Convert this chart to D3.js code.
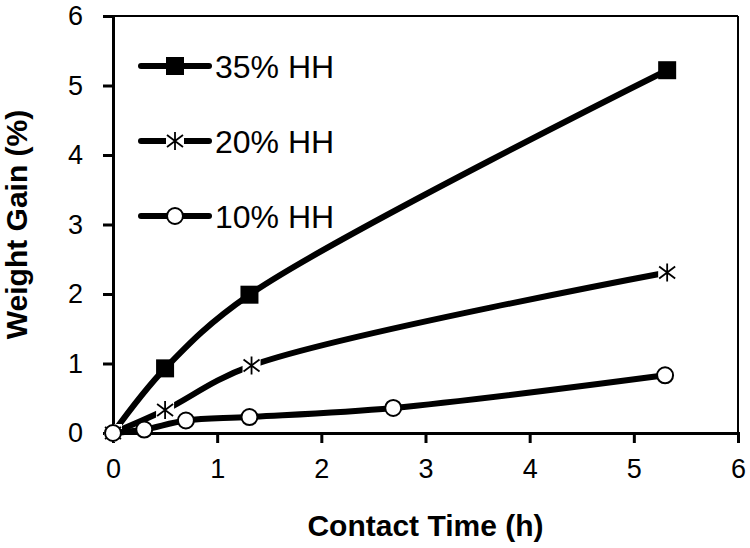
<!DOCTYPE html>
<html>
<head>
<meta charset="utf-8">
<script src="https://cdn.jsdelivr.net/npm/d3@7"></script>
<style>
  body { margin: 0; background: #fff; }
  text { font-family: "Liberation Sans", Arial, sans-serif; fill: #000; }
</style>
</head>
<body>
<div id="chart"></div>
<script>
// data
const seriesNames = ["35% HH", "20% HH", "10% HH"];
const x35 = [0, 0.5, 1.31, 5.32];
const y35 = [0, 0.93, 1.99, 5.22];
const x20 = [0, 0.5, 1.33, 5.32];
const y20 = [0, 0.33, 0.97, 2.31];
const x10 = [0, 0.3, 0.7, 1.31, 2.69, 5.3];
const y10 = [0, 0.05, 0.18, 0.23, 0.36, 0.83];
const xTicks = [0, 1, 2, 3, 4, 5, 6];
const yTicks = [0, 1, 2, 3, 4, 5, 6];

const W = 750, H = 548;
const margin = { top: 16, right: 12, bottom: 115, left: 113 };
const width = W - margin.left - margin.right,
  height = H - margin.top - margin.bottom;

const svg = d3.select("#chart").append("svg")
  .attr("width", W)
  .attr("height", H);

const g = svg.append("g")
  .attr("transform", "translate(" + margin.left + "," + margin.top + ")");

const x = d3.scaleLinear().domain([0, 6]).range([0, width]);
const y = d3.scaleLinear().domain([0, 6]).range([height, 0]);

// frame: top and right borders
g.append("line").attr("x1", 0).attr("x2", width).attr("y1", 0).attr("y2", 0)
  .attr("stroke", "#000").attr("stroke-width", 2);
g.append("line").attr("x1", width).attr("x2", width).attr("y1", 0).attr("y2", height)
  .attr("stroke", "#000").attr("stroke-width", 2);

// axes
const xAxis = g.append("g")
  .attr("transform", "translate(0," + height + ")")
  .call(d3.axisBottom(x).tickValues(xTicks).tickSize(10).tickPadding(16).tickFormat(d3.format("d")));
const yAxis = g.append("g")
  .call(d3.axisLeft(y).tickValues(yTicks).tickSize(10).tickPadding(20).tickFormat(d3.format("d")));

[xAxis, yAxis].forEach(a => {
  a.select(".domain").attr("stroke", "#000").attr("stroke-width", 3);
  a.selectAll(".tick line").attr("stroke", "#000").attr("stroke-width", 3);
  a.selectAll(".tick text")
    .style("font-family", "'Liberation Sans', Arial, sans-serif")
    .style("font-size", "27px")
    .attr("fill", "#000");
});
xAxis.selectAll(".tick text").attr("dy", "0.71em");

// axis titles
svg.append("text")
  .attr("x", margin.left + width / 2)
  .attr("y", 536)
  .attr("text-anchor", "middle")
  .style("font-size", "30px")
  .style("font-weight", "bold")
  .text("Contact Time (h)");

svg.append("text")
  .attr("transform", "translate(27," + (margin.top + height / 2) + ")rotate(-90)")
  .attr("text-anchor", "middle")
  .style("font-size", "30px")
  .style("font-weight", "bold")
  .text("Weight Gain (%)");

const line = d3.line()
  .x(d => x(d[0]))
  .y(d => y(d[1]))
  .curve(d3.curveCatmullRom.alpha(0.5));

const d35 = x35.map((v, i) => [v, y35[i]]);
const d20 = x20.map((v, i) => [v, y20[i]]);
const d10 = x10.map((v, i) => [v, y10[i]]);

// marker drawers
function square(sel, cx, cy) {
  sel.append("rect")
    .attr("x", cx - 9).attr("y", cy - 9)
    .attr("width", 18).attr("height", 18)
    .attr("fill", "#000");
}
function asterisk(sel, cx, cy) {
  sel.append("rect")
    .attr("x", cx - 9).attr("y", cy - 9)
    .attr("width", 18).attr("height", 18)
    .attr("fill", "#fff");
  sel.append("path")
    .attr("d", "M" + cx + "," + (cy - 9) + "V" + (cy + 9) +
      "M" + (cx - 8) + "," + (cy - 6) + "L" + (cx + 8) + "," + (cy + 6) +
      "M" + (cx - 8) + "," + (cy + 6) + "L" + (cx + 8) + "," + (cy - 6))
    .attr("stroke", "#000").attr("stroke-width", 1.8).attr("fill", "none");
}
function circle(sel, cx, cy) {
  sel.append("circle")
    .attr("cx", cx).attr("cy", cy).attr("r", 8)
    .attr("fill", "#fff").attr("stroke", "#000").attr("stroke-width", 2);
}

const markers = [square, asterisk, circle];
const allData = [d35, d20, d10];

allData.forEach((d, i) => {
  const s = g.append("g");
  s.append("path")
    .datum(d)
    .attr("d", line)
    .attr("fill", "none")
    .attr("stroke", "#000")
    .attr("stroke-width", 6)
    .attr("stroke-linecap", "round");
  d.forEach(p => markers[i](s, x(p[0]), y(p[1])));
});

// legend
const legendY = [66, 141, 216];
const leg = svg.append("g");
seriesNames.forEach((name, i) => {
  const ly = legendY[i];
  leg.append("line")
    .attr("x1", 141).attr("x2", 209)
    .attr("y1", ly).attr("y2", ly)
    .attr("stroke", "#000").attr("stroke-width", 6)
    .attr("stroke-linecap", "round");
  markers[i](leg, 175, ly);
  leg.append("text")
    .attr("x", 215)
    .attr("y", ly + 12)
    .style("font-size", "32px")
    .text(name);
});
</script>
</body>
</html>
